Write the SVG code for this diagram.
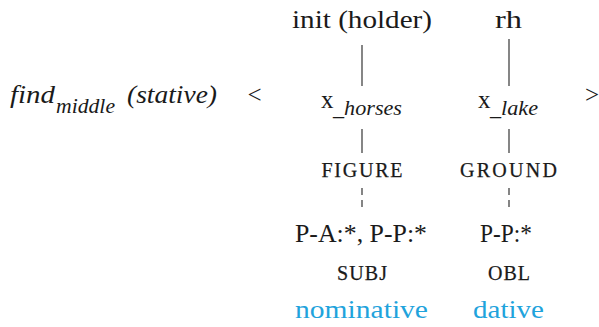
<svg xmlns="http://www.w3.org/2000/svg" width="599" height="327" viewBox="0 0 599 327">
<style>
text{font-family:"Liberation Serif","DejaVu Serif",serif;fill:#1a1a1a}
.m{font-size:25px;text-anchor:middle}
.it{font-style:italic}
.sc{font-size:20px;text-anchor:middle;stroke:#1a1a1a;stroke-width:0.25}
.blue{fill:#1fa3dc}
.ln{stroke:#222;stroke-width:1.1;fill:none}
.dash{stroke-dasharray:7 5}
</style>
<rect width="599" height="327" fill="#fff"/>
<g id="predicate">
<text x="10" y="103" class="it" font-size="25" textLength="45" lengthAdjust="spacingAndGlyphs">find</text>
<text x="56" y="113" class="it" font-size="21" textLength="59" lengthAdjust="spacingAndGlyphs">middle</text>
<text x="127" y="103" class="it" font-size="25" textLength="90" lengthAdjust="spacingAndGlyphs">(stative)</text>
<text x="254.5" y="103" class="m">&lt;</text>
<text x="592" y="103" class="m">&gt;</text>
</g>
<g id="col1">
<text x="362" y="28" class="m" textLength="140" lengthAdjust="spacingAndGlyphs">init (holder)</text>
<text x="321" y="108" font-size="25">x</text>
<text x="333" y="115" class="it" font-size="21" textLength="69" lengthAdjust="spacingAndGlyphs">_horses</text>
<text x="362" y="177" class="sc" textLength="81" lengthAdjust="spacing">FIGURE</text>
<text x="361" y="242" class="m" textLength="132" lengthAdjust="spacingAndGlyphs">P-A:*, P-P:*</text>
<text x="362" y="280" class="sc" textLength="50" lengthAdjust="spacing">SUBJ</text>
<text x="361.5" y="318" class="m blue" textLength="133" lengthAdjust="spacingAndGlyphs">nominative</text>
</g>
<g id="col2">
<text x="508.5" y="28" class="m" textLength="27" lengthAdjust="spacingAndGlyphs">rh</text>
<text x="478" y="108" font-size="25">x</text>
<text x="490" y="115" class="it" font-size="21" textLength="48" lengthAdjust="spacingAndGlyphs">_lake</text>
<text x="508.5" y="177" class="sc" textLength="97" lengthAdjust="spacing">GROUND</text>
<text x="506" y="242" class="m" textLength="52" lengthAdjust="spacingAndGlyphs">P-P:*</text>
<text x="509" y="280" class="sc" textLength="42" lengthAdjust="spacing">OBL</text>
<text x="508.5" y="318" class="m blue" textLength="71" lengthAdjust="spacingAndGlyphs">dative</text>
</g>
<g id="connectors">
<line class="ln" x1="362" y1="45" x2="362" y2="86"/>
<line class="ln" x1="509" y1="39" x2="509" y2="86"/>
<line class="ln" x1="362" y1="129" x2="362" y2="153"/>
<line class="ln" x1="509" y1="129" x2="509" y2="153"/>
<line class="ln dash" x1="362" y1="188" x2="362" y2="212"/>
<line class="ln dash" x1="509" y1="188" x2="509" y2="212"/>
</g>
</svg>
